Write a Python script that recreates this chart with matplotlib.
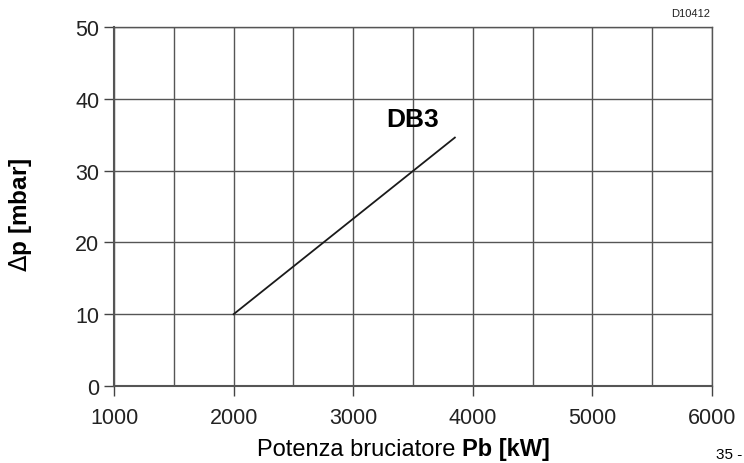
import matplotlib.pyplot as plt
import numpy as np

plt.rcParams['font.family'] = ['Liberation Sans', 'DejaVu Sans']

# curve DB3: burner output [kW] vs pressure drop [mbar]
pb = [2000, 3850]
dp = [10, 34.6]

fig = plt.figure(figsize=(7.44, 4.64), dpi=100)
ax = fig.add_axes([114 / 744, 1 - 387 / 464, 598 / 744, 359 / 464])

ax.plot(pb, dp, color='#1a1a1a', lw=1.3)
ax.text(3500, 37.2, 'DB3', fontsize=19, fontweight='bold', ha='center', va='center')

ax.set_xlim(1000, 6000)
ax.set_ylim(0, 50)
ax.set_xticks(np.arange(1000, 6001, 1000))
ax.set_xticks(np.arange(1000, 6001, 500), minor=True)
ax.set_yticks(np.arange(0, 51, 10))
ax.grid(True, which='both', color='#555555', lw=1)
ax.tick_params(which='major', direction='out', length=7, width=1, color='#444444',
               labelsize=15.5, labelcolor='#222222')
ax.tick_params(axis='x', which='major', pad=8)
ax.tick_params(which='minor', length=0)
for s in ax.spines.values():
    s.set_color('#555555')
    s.set_linewidth(1)
ax.spines['left'].set_linewidth(1.5)
ax.spines['bottom'].set_linewidth(1.5)

fig.text(21 / 744, 1 - 215 / 464, r'$\Delta$p [mbar]', rotation=90, fontsize=17.5,
         fontweight='bold', ha='center', va='center')
fig.text(462 / 744, 1 - 450 / 464, 'Potenza bruciatore ', fontsize=17, ha='right', va='center')
fig.text(462 / 744, 1 - 450 / 464, 'Pb [kW]', fontsize=17, fontweight='bold', ha='left', va='center')
fig.text(710 / 744, 1 - 14 / 464, 'D10412', fontsize=8, ha='right', va='center', color='#222222')
fig.text(716 / 744, 2 / 464, '35 -', fontsize=11, ha='left', va='bottom')

fig.savefig('out.png', dpi=100)
